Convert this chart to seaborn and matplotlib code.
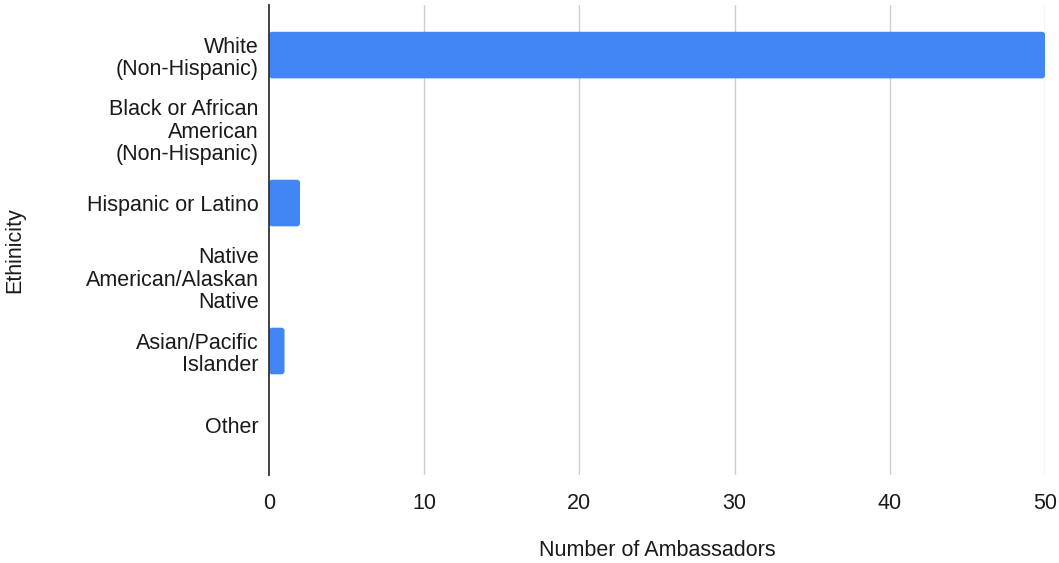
import matplotlib
matplotlib.use("Agg")
import matplotlib.pyplot as plt
from matplotlib.patches import FancyBboxPatch
import seaborn as sns
import pandas as pd

categories = ["White\n(Non-Hispanic)", "Black or African\nAmerican\n(Non-Hispanic)",
              "Hispanic or Latino", "Native\nAmerican/Alaskan\nNative",
              "Asian/Pacific\nIslander", "Other"]
values = [50, 0, 2, 0, 1, 0]
xticks = [0, 10, 20, 30, 40, 50]

sns.set_theme(style="white")
plt.rcParams['font.family'] = ['Liberation Sans', 'DejaVu Sans']

df = pd.DataFrame({"Ethinicity": categories, "Number of Ambassadors": values})

FS = 15.5
TXT = "#1a1a1a"
fig = plt.figure(figsize=(10.59, 5.63), dpi=100)
ax = fig.add_axes([0.254, 0.1563, 0.9868 - 0.254, 0.991 - 0.1563])
sns.barplot(data=df, y="Ethinicity", x="Number of Ambassadors", orient="h",
            color="#4285F4", saturation=1, width=0.63, ax=ax, zorder=3)

ax.set_xlim(0, 50)
ax.set_ylim(5.676, -0.676)

# rounded bar ends
for p in list(ax.patches):
    x, y = p.get_x(), p.get_y()
    w, h = p.get_width(), p.get_height()
    if w <= 0:
        p.remove()
        continue
    fb = FancyBboxPatch((x, y), w, h, boxstyle="round,pad=0,rounding_size=0.2",
                        mutation_aspect=0.2, facecolor="#4285F4", edgecolor="none",
                        zorder=3)
    p.remove()
    ax.add_patch(fb)

ax.set_xticks(xticks)
ax.set_xticklabels([str(t) for t in xticks], fontsize=FS, color=TXT)
ax.tick_params(axis="x", length=0, pad=13)
ax.tick_params(axis="y", length=0, pad=7.5)
for lbl in ax.get_yticklabels():
    lbl.set_fontsize(FS)
    lbl.set_color(TXT)
    lbl.set_multialignment("right")
    lbl.set_linespacing(1.1)
for t in xticks[1:]:
    ax.axvline(t, color="#cccccc", lw=1, zorder=1)
for s in ["top", "right", "bottom"]:
    ax.spines[s].set_visible(False)
ax.spines["left"].set_color("#333333")
ax.spines["left"].set_linewidth(1.3)
ax.spines["left"].set_zorder(4)

ax.set_xlabel("")
ax.set_ylabel("")
fig.text(0.5 * (0.254 + 0.9868), 1 - 551 / 563, "Number of Ambassadors", fontsize=FS,
         color=TXT, ha="center", va="center")
fig.text(15 / 1059, 1 - 250 / 563, "Ethinicity", fontsize=FS, color=TXT,
         ha="center", va="center", rotation=90)

fig.savefig("out.png", dpi=100)
